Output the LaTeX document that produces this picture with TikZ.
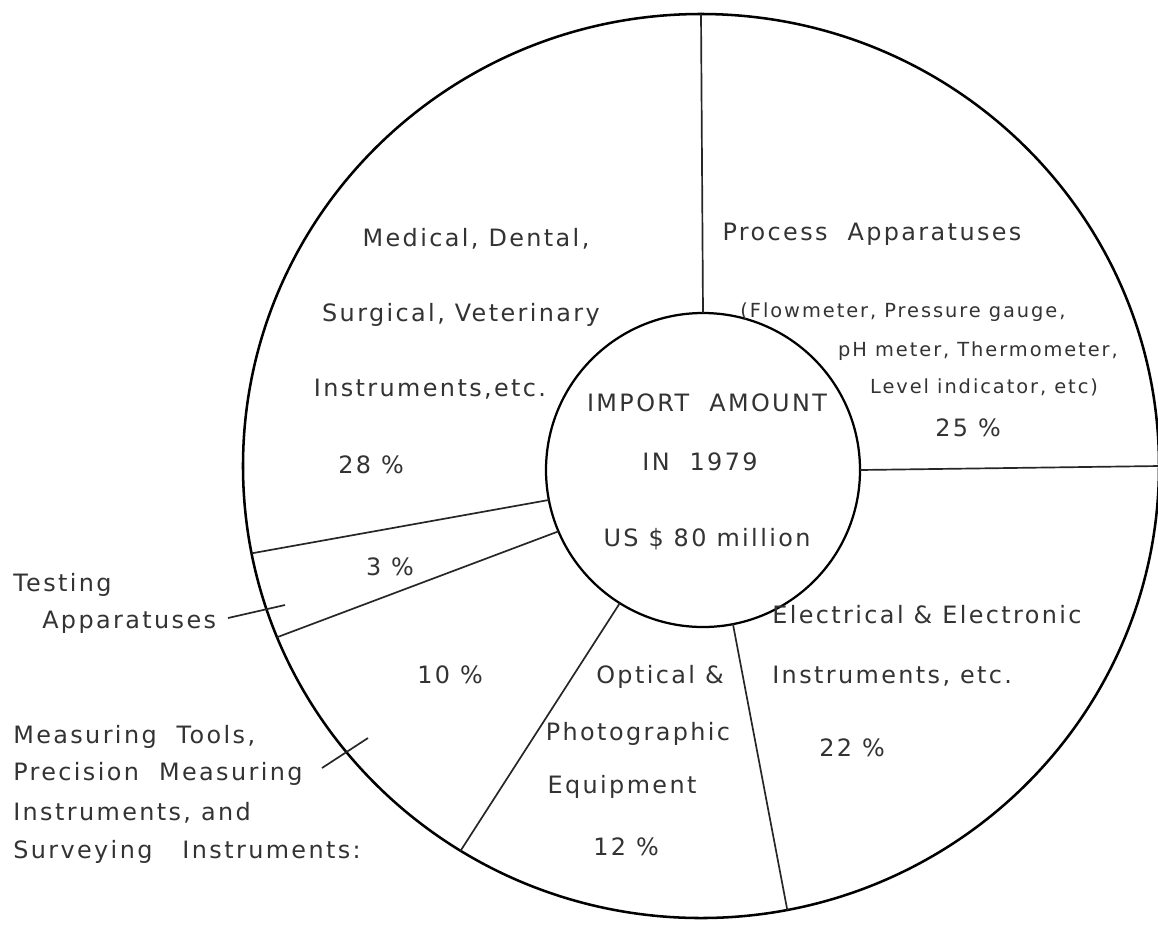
\documentclass[tikz,border=0pt]{standalone}
\usepackage{fontspec}
\setmainfont{DejaVu Sans}[LetterSpace=10]
\usetikzlibrary{shapes.geometric}
\begin{document}
\begin{tikzpicture}[x=0.25mm,y=-0.25mm,
  lbl/.style={text=black!80, inner sep=0pt, anchor=base, font=\fontsize{17}{20}\selectfont},
  lblw/.style={lbl, anchor=base west},
  small/.style={lbl, font=\fontsize{13.8}{16}\selectfont},
  ring/.style={draw=black, line width=1.8pt, inner sep=0pt, outer sep=0pt},
  divider/.style={draw=black!85, line width=1.2pt},
  leader/.style={draw=black!85, line width=1.2pt}]
\fill[white] (0,0) rectangle (1158,926);
\useasboundingbox (0,0) rectangle (1158,926);

% circles
\node[ring, ellipse, minimum width=229mm, minimum height=226mm] (outer) at (701,466) {};
\node[ring, circle, line width=1.6pt, minimum size=78.5mm] (inner) at (703,470) {};

% dividers
\draw[divider] (inner.90) -- (outer.90);
\draw[divider] (inner.0) -- (outer.0);
\draw[divider] (inner.281.2) -- (outer.281.8);
\draw[divider] (inner.238.4) -- (outer.238.6);
\draw[divider] (inner.203.2) -- (outer.202.7);
\draw[divider] (inner.191.7) -- (outer.191.2);

% centre
\node[lbl] (c1) at (707,411) {IMPORT~~AMOUNT};
\node[lbl] (c2) at (700,470) {IN~~1979};
\node[lbl] (c3) at (707,546) {US \$ 80 million};

% medical
\node[lbl] (med1) at (476,246) {Medical, Dental,};
\node[lbl] (med2) at (461,321) {Surgical, Veterinary};
\node[lbl] (med3) at (430,396) {Instruments,etc.};
\node[lbl] (med4) at (371,473) {28 \%};

% process
\node[lbl] (proc1) at (872,240) {Process~~Apparatuses};
\node[small] (proc2) at (903,317) {(Flowmeter, Pressure gauge,};
\node[small] (proc3) at (978,356) {pH meter, Thermometer,};
\node[small] (proc4) at (984,393) {Level indicator, etc)};
\node[lbl] (proc5) at (968,436) {25 \%};

% small slices
\node[lbl] (p3) at (390,575) {3 \%};
\node[lbl] (p10) at (450,683) {10 \%};

% testing
\node[lblw] (test1) at (13,591) {Testing};
\node[lblw] (test2) at (42,628) {Apparatuses};
\coordinate (tl1) at (228,618);
\coordinate (tl2) at (285,605);
\draw[leader] (tl1) -- (tl2);

% measuring
\node[lblw] (meas1) at (13,743) {Measuring~~Tools,};
\node[lblw] (meas2) at (13,780) {Precision~~Measuring};
\node[lblw] (meas3) at (13,820) {Instruments, and};
\node[lblw] (meas4) at (13,858) {Surveying~~~Instruments:};
\coordinate (ml1) at (322,768);
\coordinate (ml2) at (368,738);
\draw[leader] (ml1) -- (ml2);

% optical
\node[lbl] (opt1) at (660,683) {Optical \&};
\node[lbl] (opt2) at (638,740) {Photographic};
\node[lbl] (opt3) at (622,793) {Equipment};
\node[lbl] (opt4) at (626,855) {12 \%};

% electrical
\node[lblw] (el1) at (772,623) {Electrical \& Electronic};
\node[lblw] (el2) at (772,683) {Instruments, etc.};
\node[lbl] (el3) at (852,756) {22 \%};
\end{tikzpicture}
\end{document}
